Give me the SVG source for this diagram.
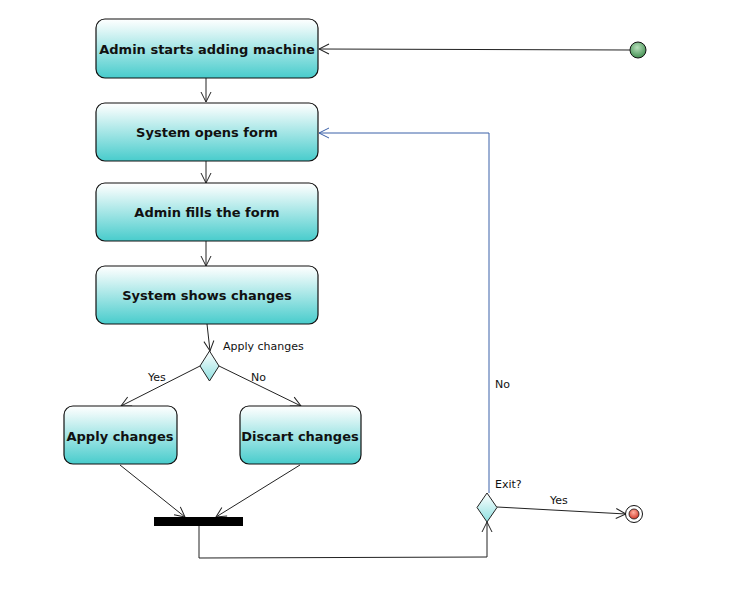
<svg xmlns="http://www.w3.org/2000/svg" width="754" height="600" viewBox="0 0 754 600">
<defs>
<linearGradient id="g" x1="0" y1="0" x2="0" y2="1">
<stop offset="0" stop-color="#ffffff"/>
<stop offset="0.15" stop-color="#e6f8f8"/>
<stop offset="1" stop-color="#48cccc"/>
</linearGradient>
<linearGradient id="gd" x1="0" y1="0" x2="0" y2="1">
<stop offset="0" stop-color="#ffffff"/>
<stop offset="1" stop-color="#8ee0e0"/>
</linearGradient>
<radialGradient id="gs" cx="0.45" cy="0.35" r="0.7">
<stop offset="0" stop-color="#b8e0bc"/>
<stop offset="1" stop-color="#3a8a4a"/>
</radialGradient>
<radialGradient id="ge" cx="0.45" cy="0.35" r="0.7">
<stop offset="0" stop-color="#ffb0a0"/>
<stop offset="1" stop-color="#d03020"/>
</radialGradient>
<marker id="a" markerWidth="12" markerHeight="12" refX="11" refY="6" orient="auto" markerUnits="userSpaceOnUse">
<path d="M1,1 L11,6 L1,11" fill="none" stroke="#222" stroke-width="1"/>
</marker>
<marker id="ab" markerWidth="12" markerHeight="12" refX="11" refY="6" orient="auto" markerUnits="userSpaceOnUse">
<path d="M1,1 L11,6 L1,11" fill="none" stroke="#3a60a8" stroke-width="1"/>
</marker>
</defs>
<style>
.box{fill:url(#g);stroke:#111;stroke-width:1.2}
.t{font-family:"DejaVu Sans",sans-serif;font-weight:bold;font-size:13px;fill:#111;text-anchor:middle}
.l{font-family:"DejaVu Sans",sans-serif;font-size:11px;fill:#111}
.c{fill:none;stroke:#222;stroke-width:1}
.cb{fill:none;stroke:#3a60a8;stroke-width:1}
</style>
<rect width="754" height="600" fill="#fff"/>
<g id="connectors">
<path class="c" d="M630,50 L319,49" marker-end="url(#a)"/>
<path class="c" d="M206,78 L206,102" marker-end="url(#a)"/>
<path class="c" d="M206,161 L206,183" marker-end="url(#a)"/>
<path class="c" d="M206,241 L206,266" marker-end="url(#a)"/>
<path class="c" d="M207,324 L210,351" marker-end="url(#a)"/>
<path class="c" d="M200,366 L121,406" marker-end="url(#a)"/>
<path class="c" d="M219,366 L301,406" marker-end="url(#a)"/>
<path class="c" d="M120,465 L185,517" marker-end="url(#a)"/>
<path class="c" d="M300,465 L216,517" marker-end="url(#a)"/>
<path class="c" d="M199,526 L199,558 L487,557 L487,522" marker-end="url(#a)"/>
<path class="cb" d="M489,493 L489,133 L319,133" marker-end="url(#ab)"/>
<path class="c" d="M497,507 L626,514" marker-end="url(#a)"/>
<text class="l" x="223" y="350">Apply changes</text>
<text class="l" x="148" y="381">Yes</text>
<text class="l" x="251" y="381">No</text>
<text class="l" x="495" y="388">No</text>
<text class="l" x="495" y="488">Exit?</text>
<text class="l" x="550" y="504">Yes</text>
</g>
<g id="start"><circle cx="638" cy="50" r="8" fill="url(#gs)" stroke="#111" stroke-width="1"/></g>
<g id="n1"><rect class="box" x="96" y="19" width="222" height="59" rx="9"/><text class="t" x="207" y="54">Admin starts adding machine</text></g>
<g id="n2"><rect class="box" x="96" y="103" width="222" height="58" rx="9"/><text class="t" x="207" y="137">System opens form</text></g>
<g id="n3"><rect class="box" x="96" y="183" width="222" height="58" rx="9"/><text class="t" x="207" y="217">Admin fills the form</text></g>
<g id="n4"><rect class="box" x="96" y="266" width="222" height="58" rx="9"/><text class="t" x="207" y="300">System shows changes</text></g>
<g id="d1"><path d="M209.5,351 L219,366 L209.5,381 L200,366 Z" fill="url(#gd)" stroke="#222" stroke-width="1"/></g>
<g id="n5"><rect class="box" x="64" y="406" width="113" height="58" rx="9"/><text class="t" x="120" y="441">Apply changes</text></g>
<g id="n6"><rect class="box" x="240" y="406" width="121" height="58" rx="9"/><text class="t" x="300" y="441">Discart changes</text></g>
<g id="bar"><rect x="154" y="517" width="89" height="9" fill="#000"/></g>
<g id="d2"><path d="M487,493 L497,507.5 L487,522 L477,507.5 Z" fill="url(#gd)" stroke="#222" stroke-width="1"/></g>
<g id="end"><circle cx="634" cy="514" r="8.5" fill="#fff" stroke="#111" stroke-width="1"/><circle cx="634" cy="514" r="5" fill="url(#ge)" stroke="#111" stroke-width="0.8"/></g>
</svg>
